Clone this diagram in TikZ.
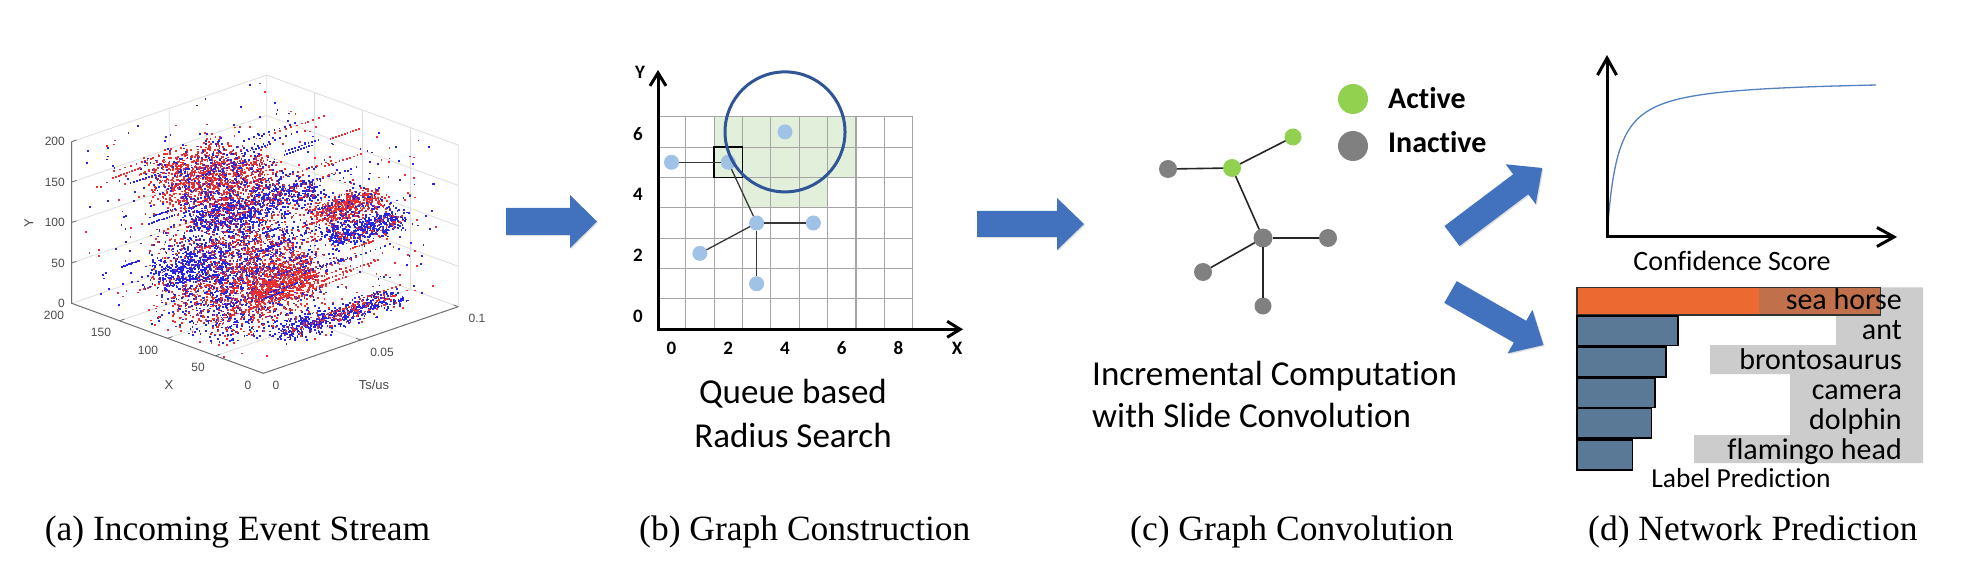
\documentclass[tikz,border=0pt]{standalone}
\usepackage{fontspec}
\usepackage{graphicx}
\setmainfont{Liberation Serif}
\newfontfamily\calfont[Ligatures=CommonOff]{Carlito}
\newfontfamily\helfont{Liberation Sans}
\usetikzlibrary{arrows.meta,shadows}

\definecolor{evred}{RGB}{232,48,48}
\definecolor{evblue}{RGB}{38,38,228}
\definecolor{axgray}{RGB}{110,110,110}
\definecolor{gridgray}{RGB}{222,222,222}
\definecolor{ticktext}{RGB}{75,75,75}
\definecolor{arrowblue}{RGB}{66,113,190}
\definecolor{gridline}{RGB}{165,165,165}
\definecolor{areagreen}{RGB}{226,239,218}
\definecolor{circblue}{RGB}{47,85,151}
\definecolor{ptblue}{RGB}{160,194,230}
\definecolor{edgegray}{RGB}{55,55,55}
\definecolor{actgreen}{RGB}{146,208,80}
\definecolor{inactgray}{RGB}{128,128,128}
\definecolor{curveblue}{RGB}{84,130,190}
\definecolor{barorange}{RGB}{236,106,50}
\definecolor{barbrown}{RGB}{192,112,74}
\definecolor{barblue}{RGB}{89,121,150}
\definecolor{labgray}{RGB}{204,204,204}

\tikzset{
  ticklab/.style={font=\helfont\fontsize{12}{12}\selectfont, text=ticktext, inner sep=0},
  axlab/.style={font=\helfont\fontsize{13}{13}\selectfont, text=ticktext, inner sep=0},
  bdot/.style={circle, fill=ptblue, minimum size=15pt, inner sep=0, outer sep=0},
  bedge/.style={draw=edgegray, line width=1.3},
  btick/.style={font=\calfont\bfseries\fontsize{19}{19}\selectfont, inner sep=0},
  bigtxt/.style={font=\calfont\fontsize{35}{42}\selectfont, inner sep=0},
  gnode/.style={circle, fill=inactgray, minimum size=18pt, inner sep=0, outer sep=0},
  anode/.style={circle, fill=actgreen, minimum size=18pt, inner sep=0, outer sep=0},
  cedge/.style={draw=black!85, line width=1.6},
  legtxt/.style={font=\calfont\bfseries\fontsize{30}{30}\selectfont, inner sep=0},
  captxt/.style={font=\fontsize{35.5}{40}\selectfont, inner sep=0},
  barlab/.style={font=\calfont\fontsize{30}{30}\selectfont, inner sep=0},
  midtxt/.style={font=\calfont\fontsize{28}{28}\selectfont, inner sep=0},
  blockarr/.style={fill=arrowblue, drop shadow={shadow xshift=1.2pt, shadow yshift=-1.2pt, opacity=0.25}},
  baxis/.style={line width=3, line join=miter, {Straight Barb[length=13pt,width=16pt]}-{Straight Barb[length=13pt,width=16pt]}},
  daxis/.style={line width=3, line join=miter, {Straight Barb[length=17pt,width=19pt]}-{Straight Barb[length=17pt,width=19pt]}},
  barbox/.style={draw=black, line width=1.5},
}

% random event blob: colour, count, x0,x1, y0,y1, t0,t1 (normalised axes), triangular in x,y
\newcommand\evblob[8]{%
  \foreach \i in {1,...,#2}{%
    \pgfmathsetmacro\evx{#3+(#4-#3)*(rnd+rnd)/2}%
    \pgfmathsetmacro\evy{#5+(#6-#5)*(rnd+rnd)/2}%
    \pgfmathsetmacro\evt{#7+(#8-#7)*rnd}%
    \fill[#1] (\evx,\evy,\evt) ++(-0.9pt,-0.9pt) rectangle ++(1.8pt,1.8pt);%
  }%
}
% uniform blob
\newcommand\evbox[8]{%
  \foreach \i in {1,...,#2}{%
    \pgfmathsetmacro\evx{#3+(#4-#3)*rnd}%
    \pgfmathsetmacro\evy{#5+(#6-#5)*rnd}%
    \pgfmathsetmacro\evt{#7+(#8-#7)*rnd}%
    \fill[#1] (\evx,\evy,\evt) ++(-0.9pt,-0.9pt) rectangle ++(1.8pt,1.8pt);%
  }%
}
% block arrow: position, angle, length, shaft half width, head half width
\newcommand\blockarrow[5]{%
  \begin{scope}[shift={#1}, rotate=#2]
    \fill[blockarr] (0,-#4) -- ({#3-27},-#4) -- ({#3-27},-#5) -- (#3,0) -- ({#3-27},#5) -- ({#3-27},#4) -- (0,#4) -- cycle;
  \end{scope}}

\begin{document}
\begin{tikzpicture}[x=1pt,y=-1pt]
\useasboundingbox (0,0) rectangle (1969,569);
\fill[white] (0,0) rectangle (1969,569);

% ================= (a) event stream scatter =================
\pgfmathsetseed{11}
\begin{scope}[shift={(263.3,373.3)}, x={(-191.6pt,70pt)}, y={(0pt,161.6pt)}, z={(195pt,66.6pt)}]
  \draw[gridgray, line width=0.8]
    (1,0,0) -- (1,1,0) -- (1,1,1) -- (0,1,1) -- (0,0,1)
    (1,0,1) -- (1,1,1)
    (1,0,0) -- (1,0,1) -- (0,0,1)
    (1,0,0.5) -- (1,1,0.5)
    (1,0,0.5) -- (0,0,0.5)
    (1,0.25,0) -- (1,0.25,1) -- (0,0.25,1)
    (1,0.5,0) -- (1,0.5,1) -- (0,0.5,1)
    (1,0.75,0) -- (1,0.75,1) -- (0,0.75,1)
    (0.25,0,1) -- (0.25,1,1) (0.25,0,0) -- (0.25,0,1)
    (0.5,0,1) -- (0.5,1,1) (0.5,0,0) -- (0.5,0,1)
    (0.75,0,1) -- (0.75,1,1) (0.75,0,0) -- (0.75,0,1);
  % events: sparse background
  \evbox{evred}{380}{0.02}{1}{0}{1}{0}{1}
  \evbox{evblue}{380}{0.02}{1}{0}{1}{0}{1}
  % main mass
  \evbox{evblue}{1250}{0.2}{0.62}{0.02}{0.62}{0.02}{0.55}
  \evbox{evred}{1050}{0.2}{0.62}{0.02}{0.62}{0.02}{0.55}
  % upper red band
  \evbox{evred}{1050}{0.5}{0.85}{0.62}{0.88}{0.2}{0.6}
  \evbox{evblue}{320}{0.5}{0.85}{0.62}{0.88}{0.2}{0.6}
  % blue middle band
  \evblob{evblue}{600}{0.42}{0.72}{0.5}{0.66}{0.25}{0.8}
  \evblob{evred}{120}{0.42}{0.72}{0.5}{0.66}{0.25}{0.8}
  % right cluster
  \evblob{evred}{440}{0.18}{0.36}{0.56}{0.7}{0.55}{0.85}
  \evblob{evblue}{80}{0.18}{0.36}{0.56}{0.7}{0.55}{0.85}
  \evblob{evblue}{440}{0.12}{0.3}{0.44}{0.58}{0.55}{0.9}
  \evblob{evred}{80}{0.12}{0.3}{0.44}{0.58}{0.55}{0.9}
  % bottom blue streak
  \evblob{evblue}{480}{0.04}{0.2}{0.04}{0.16}{0.2}{0.8}
  \evblob{evred}{100}{0.04}{0.2}{0.04}{0.16}{0.2}{0.8}
  % lower red cluster
  \evblob{evred}{560}{0.25}{0.45}{0.1}{0.35}{0.3}{0.6}
  \evblob{evblue}{320}{0.45}{0.65}{0.2}{0.5}{0.0}{0.3}
  % streaks along time
  \foreach \s in {1,...,60}{%
    \pgfmathsetmacro\stx{0.05+0.9*rnd}%
    \pgfmathsetmacro\sty{0.05+0.9*rnd}%
    \pgfmathsetmacro\stt{0.8*rnd}%
    \pgfmathsetmacro\stl{0.08+0.25*rnd}%
    \ifodd\s \def\stc{evred}\else\def\stc{evblue}\fi
    \foreach \j in {0,...,10}{%
      \pgfmathsetmacro\stq{\stt+\stl*\j/10}%
      \fill[\stc] (\stx,\sty,\stq) ++(-0.9pt,-0.9pt) rectangle ++(1.8pt,1.8pt);%
    }%
  }
  % axes and ticks
  \draw[axgray, line width=1] (1,1,0) -- (1,0,0) -- (0,0,0) -- (0,0,1);
  \draw[axgray, line width=0.8]
    (1,0.25,0) -- (1,0.25,0.025) (1,0.5,0) -- (1,0.5,0.025) (1,0.75,0) -- (1,0.75,0.025) (1,1,0) -- (1,1,0.025)
    (0.25,0,0) -- (0.25,0,0.025) (0.5,0,0) -- (0.5,0,0.025) (0.75,0,0) -- (0.75,0,0.025)
    (0,0,0.5) -- (0.025,0,0.5) (0,0,1) -- (0.025,0,1);
\end{scope}
\node[ticklab, anchor=east] (ty200) at (65,141.7) {200};
\node[ticklab, anchor=east] (ty150) at (65,182.1) {150};
\node[ticklab, anchor=east] (ty100) at (65,222.5) {100};
\node[ticklab, anchor=east] (ty50) at (65,262.9) {50};
\node[ticklab, anchor=east] (ty0) at (65,303.3) {0};
\node[ticklab] (tx200) at (54,315) {200};
\node[ticklab] (tx150) at (101,332.5) {150};
\node[ticklab] (tx100) at (148,350) {100};
\node[ticklab] (tx50) at (198,367.5) {50};
\node[ticklab] (tx0) at (248,385) {0};
\node[ticklab] (tt0) at (276,385) {0};
\node[ticklab] (tt5) at (382,352) {0.05};
\node[ticklab] (tt10) at (477,318) {0.1};
\node[axlab] (labX) at (169,385) {X};
\node[axlab] (labT) at (374,385) {Ts/us};
\node[axlab, rotate=90] (labY) at (29,223) {Y};

% ================= block arrows =================
\blockarrow{(506,221.5)}{0}{91}{13.5}{26.5}
\blockarrow{(977,224)}{0}{107}{13}{26}
\blockarrow{(1452,236)}{37}{113}{12.5}{25}
\blockarrow{(1450.5,292)}{-29.7}{107}{12.5}{25}

% ================= (b) graph construction =================
\begin{scope}[shift={(657.3,329.3)}, x={(28.38pt,0pt)}, y={(0pt,30.37pt)}]
  \fill[areagreen] (2,5) rectangle (7,7);
  \fill[areagreen] (3,4) rectangle (6,5);
  \draw[gridline, line width=1.1, step=1] (0,0) grid (9,7);
  \draw[black, line width=1.8] (2,5) rectangle (3,6);
  \node[bdot] (p05) at (0.5,5.5) {};
  \node[bdot] (p25) at (2.5,5.5) {};
  \node[bdot] (p46) at (4.5,6.5) {};
  \node[bdot] (p33) at (3.5,3.5) {};
  \node[bdot] (p53) at (5.5,3.5) {};
  \node[bdot] (p12) at (1.5,2.5) {};
  \node[bdot] (p31) at (3.5,1.5) {};
  \draw[circblue, line width=3] (p46.center) circle (60pt);
  \draw[bedge] (p05) -- (p25);
  \draw[bedge] (p25) -- (p33);
  \draw[bedge] (p33) -- (p53);
  \draw[bedge] (p33) -- (p12);
  \draw[bedge] (p33) -- (p31);
\end{scope}
\coordinate (byt) at (658,70);
\coordinate (bo) at (658,329.3);
\coordinate (bxt) at (963,329.3);
\draw[baxis] (byt) -- (bo) -- (bxt);
\node[btick] (bx0) at (671.5,348) {0};
\node[btick] (bx2) at (728.3,348) {2};
\node[btick] (bx4) at (785,348) {4};
\node[btick] (bx6) at (841.7,348) {6};
\node[btick] (bx8) at (898.5,348) {8};
\node[btick] (bxl) at (957,348) {X};
\node[btick] (by6) at (638,134) {6};
\node[btick] (by4) at (638,194.5) {4};
\node[btick] (by2) at (638,255.5) {2};
\node[btick] (by0) at (638,316) {0};
\node[btick] (byl) at (640,72) {Y};
\node[bigtxt, anchor=base] (qtxt1) at (793,403) {Queue based};
\node[bigtxt, anchor=base] (qtxt2) at (793,447) {Radius Search};

% ================= (c) graph convolution =================
\node[gnode] (g1) at (1168,169) {};
\node[anode] (a1) at (1232,168) {};
\node[anode, minimum size=17pt] (a2) at (1293,137) {};
\node[gnode, minimum size=19pt] (g2) at (1263,238) {};
\node[gnode] (g3) at (1328,238) {};
\node[gnode] (g4) at (1203,272) {};
\node[gnode, minimum size=17pt] (g5) at (1263,306) {};
\draw[cedge] (g1) -- (a1);
\draw[cedge] (a1) -- (a2);
\draw[cedge] (a1) -- (g2);
\draw[cedge] (g2) -- (g3);
\draw[cedge] (g2) -- (g4);
\draw[cedge] (g2) -- (g5);
\node[anode, minimum size=30pt] (lega) at (1353,99) {};
\node[gnode, minimum size=30pt] (legi) at (1353,146) {};
\node[legtxt, anchor=base west] (legat) at (1388,108.5) {Active};
\node[legtxt, anchor=base west] (legit) at (1388,153) {Inactive};
\node[bigtxt, anchor=base west] (ctxt1) at (1092,385) {Incremental Computation};
\node[bigtxt, anchor=base west] (ctxt2) at (1092,427) {with Slide Convolution};

% ================= (d) network prediction =================
\draw[curveblue, line width=1.3] plot[domain=0:269, samples=150, smooth] ({1607+\x},{237-157.8*(\x/(\x+10.3))});
\coordinate (dyt) at (1607,55);
\coordinate (do) at (1607,237);
\coordinate (dxt) at (1897,237);
\draw[daxis] (dyt) -- (do) -- (dxt);
\node[midtxt, anchor=base] (conf) at (1732,270) {Confidence Score};

\fill[labgray] (1923,287.3) -- (1759,287.3) -- (1759,315) -- (1836,315) -- (1836,345) -- (1710,345)
  -- (1710,374) -- (1790,374) -- (1790,435) -- (1694,435) -- (1694,463) -- (1923,463) -- cycle;
\fill[barorange] (1577,287.3) rectangle (1880.5,315);
\fill[barbrown] (1759,288) rectangle (1880.5,314.5);
\draw[barbox, draw=black!80] (1577,287.3) rectangle (1880.5,315);
\filldraw[barbox, fill=barblue] (1577,316) rectangle (1678,345.5);
\filldraw[barbox, fill=barblue] (1577,347) rectangle (1666,377);
\filldraw[barbox, fill=barblue] (1577,378) rectangle (1655,407.5);
\filldraw[barbox, fill=barblue] (1577,408.5) rectangle (1651.5,438);
\filldraw[barbox, fill=barblue] (1577,440) rectangle (1632.5,470);
\node[barlab, anchor=base east] (lb1) at (1902,309.5) {sea horse};
\node[barlab, anchor=base east] (lb2) at (1902,339.5) {ant};
\node[barlab, anchor=base east] (lb3) at (1902,369) {brontosaurus};
\node[barlab, anchor=base east] (lb4) at (1902,399.5) {camera};
\node[barlab, anchor=base east] (lb5) at (1902,429.5) {dolphin};
\node[barlab, anchor=base east] (lb6) at (1902,459) {flamingo head};
\node[midtxt, anchor=base, font=\calfont\fontsize{27.5}{27.5}\selectfont] (lpred) at (1741,487) {Label Prediction};

% ================= captions =================
\node[captxt, anchor=base west] (capa) at (44.6,540) {(a) Incoming Event Stream};
\node[captxt, anchor=base west] (capb) at (639,540) {(b) Graph Construction};
\node[captxt, anchor=base west] (capc) at (1130,540) {(c) Graph Convolution};
\node[captxt, anchor=base west] (capd) at (1588,540) {(d) Network Prediction};
\end{tikzpicture}
\end{document}
